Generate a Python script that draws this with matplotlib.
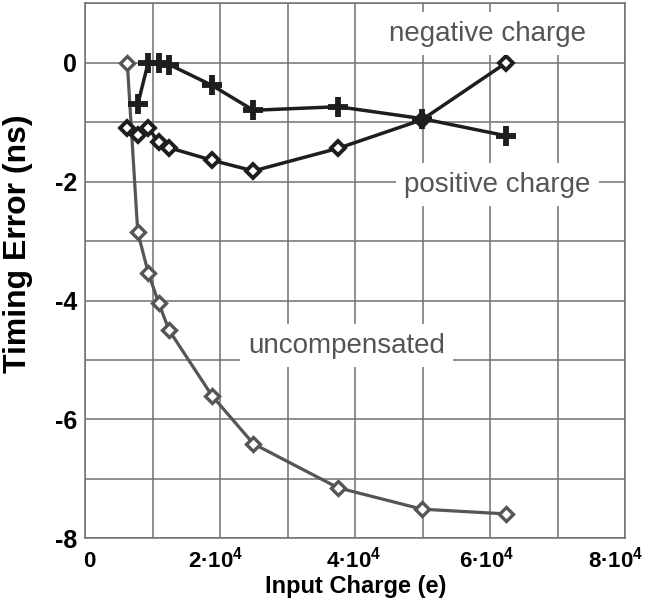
import numpy as np
import matplotlib
matplotlib.use("Agg")
import matplotlib.pyplot as plt
from matplotlib.transforms import ScaledTranslation

plt.rcParams['font.family'] = ['Liberation Sans', 'DejaVu Sans']
plt.rcParams['mathtext.fontset'] = 'custom'
plt.rcParams['mathtext.rm'] = 'Liberation Sans:bold'
plt.rcParams['mathtext.it'] = 'Liberation Sans:bold'
plt.rcParams['mathtext.bf'] = 'Liberation Sans:bold'
plt.rcParams['mathtext.default'] = 'rm'

# input charge (electrons)
charge = [6200, 7750, 9300, 10850, 12400, 18750, 24900, 37450, 49900, 62400]
uncompensated = [0.0, -2.85, -3.53, -4.04, -4.50, -5.60, -6.41, -7.15, -7.51, -7.59]
positive = [-1.09, -1.22, -1.09, -1.34, -1.43, -1.64, -1.82, -1.44, -0.96, 0.0]
# negative charge starts at the second charge value
charge_neg = charge[1:]
negative = [-0.70, 0.0, 0.0, -0.03, -0.38, -0.80, -0.74, -0.94, -1.23]

xticks = [0, 20000, 40000, 60000, 80000]
xticklabels = ["0", "$2·10^4$", "$4·10^4$", "$6·10^4$", "$8·10^4$"]
yticks = [0, -2, -4, -6, -8]

fig = plt.figure(figsize=(6.51, 6.07), dpi=100)
ax = fig.add_axes([0.1313, 0.1132, 0.8287, 0.8814])

ax.plot(charge, uncompensated, color='#555555', lw=2.3, marker='D', ms=7.5,
        mfc='white', mec='#555555', mew=2.4)
ax.plot(charge, positive, color='#1e1e1e', lw=2.5, marker='D', ms=7.5,
        mfc='white', mec='#1e1e1e', mew=2.8)
ax.plot(charge_neg, negative, color='#1e1e1e', lw=2.5, marker='+', ms=15,
        mew=4.2)

ax.set_xlim(0, 80000)
ax.set_ylim(-8, 1)
ax.set_xticks(xticks)
ax.set_xticks(np.arange(10000, 80000, 20000), minor=True)
ax.set_yticks(yticks)
ax.set_yticks([1, -1, -3, -5, -7], minor=True)
ax.grid(True, which='both', color='#707070', lw=1.1)
ax.set_axisbelow(True)
ax.set_xticklabels(xticklabels)
ax.set_yticklabels([str(v) for v in yticks])
ax.tick_params(axis='both', which='both', length=0)
ax.tick_params(axis='x', pad=21, labelsize=16)
ax.tick_params(axis='y', pad=6, labelsize=18)

# small horizontal nudges of the x labels (pixels) as in the original
nudge = [4, -5, -2, -3, -9]
for lbl, dx in zip(ax.get_xticklabels(), nudge):
    lbl.set_fontweight('bold')
    lbl.set_va('baseline')
    lbl.set_transform(lbl.get_transform() +
                      ScaledTranslation(dx / 100, 0, fig.dpi_scale_trans))
for lbl in ax.get_yticklabels():
    lbl.set_fontweight('bold')

for s in ax.spines.values():
    s.set_color('#707070')
    s.set_linewidth(1.1)

ax.set_xlabel("Input Charge (e)", fontsize=17, fontweight='bold')
ax.xaxis.set_label_coords(0.5, -0.068)
ax.xaxis.label.set_va('top')
ax.set_ylabel("Timing Error (ns)", fontsize=23, fontweight='bold')
ax.yaxis.set_label_coords(-0.097, 0.55)

box = dict(boxstyle='square,pad=0.3', fc='white', ec='none')
ax.text(59610, 0.37, "negative charge", fontsize=20, color='#555555',
        ha='center', va='baseline', bbox=box)
ax.text(61090, -2.17, "positive charge", fontsize=20, color='#555555',
        ha='center', va='baseline', bbox=box)
ax.text(38700, -4.88, "uncompensated", fontsize=20, color='#555555',
        ha='center', va='baseline', bbox=box)

fig.savefig("out.png", dpi=100)
